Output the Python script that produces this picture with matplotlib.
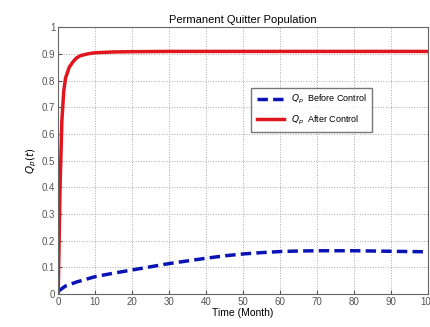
import numpy as np
from matplotlib import pyplot as plt

# values
t_before = [0, 2, 5, 10, 15, 20, 25, 30, 35, 40, 45, 50, 55, 60, 65, 70, 75, 80, 85, 90, 95, 100]
q_before = [0.01, 0.03, 0.045, 0.065, 0.078, 0.09, 0.102, 0.114, 0.124, 0.134, 0.143, 0.150, 0.155, 0.159, 0.161, 0.162, 0.162, 0.162, 0.161, 0.160, 0.159, 0.158]

t_after = [0, 0.5, 1, 1.5, 2, 3, 4, 5, 6, 8, 10, 15, 20, 30, 40, 60, 80, 100]
q_after = [0.0, 0.4, 0.65, 0.76, 0.81, 0.85, 0.87, 0.885, 0.893, 0.900, 0.904, 0.907, 0.908, 0.909, 0.909, 0.909, 0.909, 0.909]

x_ticks = [0, 10, 20, 30, 40, 50, 60, 70, 80, 90, 100]
y_ticks = [0, 0.1, 0.2, 0.3, 0.4, 0.5, 0.6, 0.7, 0.8, 0.9, 1]

plt.rcParams['font.family'] = ['Liberation Sans', 'DejaVu Sans']
plt.rcParams['font.size'] = 7

fig = plt.figure(figsize=(4.31, 3.27), dpi=100)
ax = fig.add_axes([0.135, 0.101, 0.858, 0.816])

ax.plot(t_before, q_before, '--', color='#0a14b4', linewidth=2.5, dashes=(3, 1.5),
        label=r'$Q_p$  Before Control')
ax.plot(t_after, q_after, '-', color='#e0151e', linewidth=2.5,
        label=r'$Q_p$  After Control')

ax.set_xlim(0, 100)
ax.set_ylim(0, 1)
ax.set_xticks(x_ticks)
ax.set_yticks(y_ticks)
ax.set_yticklabels(['0', '0.1', '0.2', '0.3', '0.4', '0.5', '0.6', '0.7', '0.8', '0.9', '1'])
ax.tick_params(direction='in', length=3, colors='#555555', pad=2)
ax.grid(True, linestyle=':', color='#aaaaaa', linewidth=0.7)
for s in ax.spines.values():
    s.set_color('#666666')

ax.set_title('Permanent Quitter Population', fontsize=8, pad=3)
ax.set_xlabel('Time (Month)', fontsize=7.5, labelpad=1)
ax.set_ylabel(r'$Q_p(t)$', fontsize=7.5, labelpad=2)

ax.legend(loc='upper left', bbox_to_anchor=(0.51, 0.79), fontsize=6.5, frameon=True,
          fancybox=False, edgecolor='#555555', handlelength=3, borderpad=0.6,
          labelspacing=0.8)

fig.savefig('out.png', dpi=100)
